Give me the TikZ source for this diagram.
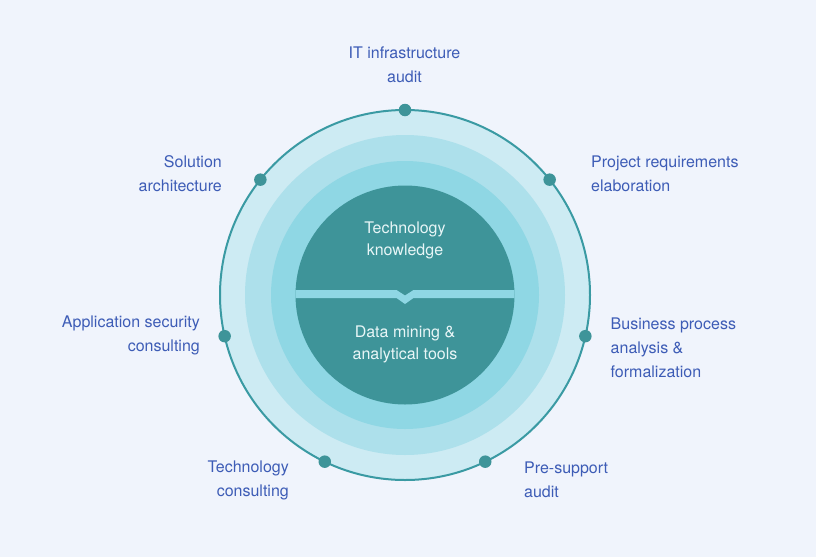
\documentclass[tikz,border=0pt]{standalone}
\usepackage{fontspec}
\setmainfont{TeX Gyre Heros}
\definecolor{bg}{HTML}{F0F4FC}
\definecolor{ring1}{HTML}{CDEBF3}
\definecolor{ring2}{HTML}{ADE0EB}
\definecolor{ring3}{HTML}{8FD7E4}
\definecolor{core}{HTML}{3E9499}
\definecolor{rim}{HTML}{3A9AA3}
\definecolor{lbl}{HTML}{3D5CB6}
\definecolor{coretext}{HTML}{E8F6F7}
\begin{document}
\begin{tikzpicture}[x=1pt,y=-1pt,
  dot/.style={circle,fill=core,inner sep=0pt,minimum size=12.5pt},
  outlbl/.style={text=lbl,font=\fontsize{16}{24}\selectfont,inner sep=0pt},
  inlbl/.style={text=coretext,font=\fontsize{16}{22}\selectfont,inner sep=0pt,align=center}]
\fill[bg] (0,0) rectangle (816,557);
\useasboundingbox (0,0) rectangle (816,557);
\coordinate (c) at (405,295);
\fill[ring1] (c) circle (185pt);
\draw[rim,line width=2pt] (c) circle (185pt);
\fill[ring2] (c) circle (160pt);
\fill[ring3] (c) circle (134pt);
\fill[core] (c) circle (109.5pt);
\begin{scope}
\clip (c) circle (109.5pt);
\fill[ring3] (280,290) -- (396.5,290) -- (405,295.5) -- (413.5,290) -- (530,290)
  -- (530,298) -- (413.5,298) -- (405,304) -- (396.5,298) -- (280,298) -- cycle;
\end{scope}
\foreach \i/\a in {1/90,2/38.57,3/-12.86,4/-64.29,5/-115.71,6/-167.14,7/141.43}
  \node[dot] (d\i) at ([shift={(\a:185pt)}]c) {};
\node[inlbl] (tk) at (405,240.5) {Technology\\knowledge};
\node[inlbl] (dm) at (405,344.5) {Data mining \&\\analytical tools};
\node[outlbl,align=center] (l1) at (404.5,64.5) {IT infrastructure\\audit};
\node[outlbl,align=left,anchor=west] (l2) at (591,173.5) {Project requirements\\elaboration};
\node[outlbl,align=left,anchor=west] (l3) at (610.5,347.5) {Business process\\analysis \&\\formalization};
\node[outlbl,align=left,anchor=west] (l4) at (524,480) {Pre-support\\audit};
\node[outlbl,align=right,anchor=east] (l5) at (289,480) {Technology\\consulting};
\node[outlbl,align=right,anchor=east] (l6) at (200,335) {Application security\\consulting};
\node[outlbl,align=right,anchor=east] (l7) at (222,173.5) {Solution\\architecture};
\end{tikzpicture}
\end{document}
